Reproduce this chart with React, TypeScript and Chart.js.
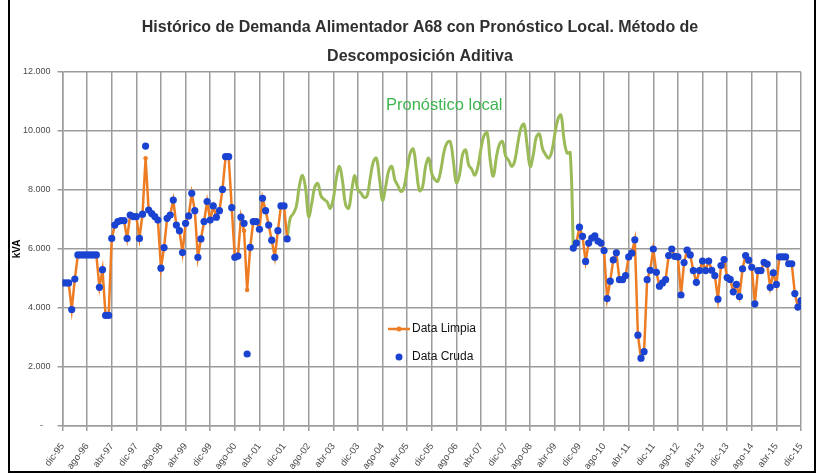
import React, { useEffect, useRef } from 'react';
import { Chart, registerables } from 'chart.js';

Chart.register(...registerables);

// ---------- DATA ----------
const titleLines = [
  'Histórico de Demanda Alimentador A68 con Pronóstico Local. Método de',
  'Descomposición Aditiva',
];
const yAxisTitle = 'kVA';
const annotationText = 'Pronóstico local';
const legendLabels = ['Data Limpia', 'Data Cruda'];

// x tick labels, one every 8 months starting dic-95 (month index 0)
const tickLabels = [
  'dic-95', 'ago-96', 'abr-97', 'dic-97', 'ago-98', 'abr-99', 'dic-99', 'ago-00',
  'abr-01', 'dic-01', 'ago-02', 'abr-03', 'dic-03', 'ago-04', 'abr-05', 'dic-05',
  'ago-06', 'abr-07', 'dic-07', 'ago-08', 'abr-09', 'dic-09', 'ago-10', 'abr-11',
  'dic-11', 'ago-12', 'abr-13', 'dic-13', 'ago-14', 'abr-15', 'dic-15',
];
const monthsPerTick = 8;
const totalMonths = 240;

// Data Limpia, first period (starts dic-95, month 0)
const limpiaStart1 = 0;
const limpia1 = [
  4850, 4850, 4850, 3950, 4980, 5800, 5800, 5800, 5800, 5800, 5800, 5800,
  4700, 5300, 3750, 3750, 6360, 6810, 6930, 6960, 6960, 6360, 7150, 7100,
  7100, 6360, 7180, 9080, 7320, 7200, 7100, 6980, 5350, 6050, 7040, 7150,
  7660, 6810, 6620, 5880, 6870, 7120, 7890, 7300, 5720, 6340, 6930, 7610,
  6980, 7460, 7080, 7300, 8020, 9130, 9130, 7400, 5720, 5760, 7080, 6620,
  4610, 6060, 6930, 6930, 6670, 7720, 7300, 6810, 6300, 5720, 6620, 7460,
  7460, 6340,
];
// Data Cruda, first period
const cruda1 = [
  4850, 4850, 4850, 3950, 4980, 5800, 5800, 5800, 5800, 5800, 5800, 5800,
  4700, 5300, 3750, 3750, 6360, 6810, 6930, 6960, 6960, 6360, 7150, 7100,
  7100, 6360, 7180, 9490, 7320, 7200, 7100, 6980, 5350, 6050, 7040, 7150,
  7660, 6810, 6620, 5880, 6870, 7120, 7890, 7300, 5720, 6340, 6930, 7610,
  6980, 7460, 7080, 7300, 8020, 9130, 9130, 7400, 5720, 5760, 7080, 6870,
  2440, 6060, 6930, 6930, 6670, 7720, 7300, 6810, 6300, 5720, 6620, 7460,
  7460, 6340,
];

// Pronóstico local (starts ene-02, month 73)
const pronosticoStart = 73;
const pronostico = [
  6340, 7050, 7200, 7450, 8150, 8500, 8050, 7100, 7550, 8100, 8220, 7800,
  7680, 7600, 7380, 7700, 8400, 8800, 8300, 7500, 7380, 8000, 8490, 8000,
  7900, 7750, 7800, 8400, 8950, 9080, 8400, 7650, 8100, 8650, 8800, 8350,
  8150, 7950, 8100, 8700, 9250, 9390, 8700, 7980, 8100, 8800, 9080, 8560,
  8350, 8300, 8700, 9300, 9600, 9640, 9000, 8250, 8500, 9200, 9360, 8850,
  8700, 8500, 8800, 9400, 9850, 9940, 9000, 8470, 9100, 9550, 9640, 9150,
  9000, 8800, 9000, 9600, 10100, 10230, 9500, 8800, 9200, 9800, 9900, 9400,
  9200, 9080, 9300, 9900, 10400, 10540, 9700, 9250, 9270, 6030,
];

// Data Limpia / Cruda, second period (starts oct-09, month 166)
const limpiaStart2 = 166;
const limpia2 = [
  6030, 6200, 6740, 6430, 5580, 6200, 6370, 6450, 6270, 6200, 5950, 4320,
  4910, 5630, 5870, 4960, 4960, 5100, 5730, 5860, 6310, 3080, 2300, 2520,
  4960, 5280, 6000, 5210, 4740, 4850, 4960, 5780, 6000, 5750, 5730, 4440,
  5540, 5960, 5800, 5270, 4870, 5270, 5590, 5270, 5590, 5280, 5100, 4300,
  5440, 5640, 5030, 4970, 4550, 4800, 4390, 5330, 5780, 5620, 5380, 4140,
  5270, 5270, 5550, 5490, 4700, 5190, 4800, 5730, 5730, 5730, 5500, 5500,
  4490, 4030, 4250,
];
const cruda2 = [
  6030, 6200, 6740, 6430, 5580, 6200, 6370, 6450, 6270, 6200, 5950, 4320,
  4910, 5630, 5870, 4960, 4960, 5100, 5730, 5860, 6310, 3080, 2300, 2520,
  4960, 5280, 6000, 5210, 4740, 4850, 4960, 5780, 6000, 5750, 5730, 4440,
  5540, 5960, 5800, 5270, 4870, 5270, 5590, 5270, 5590, 5280, 5100, 4300,
  5440, 5640, 5030, 4970, 4550, 4800, 4390, 5330, 5780, 5620, 5380, 4140,
  5270, 5270, 5550, 5490, 4700, 5190, 4800, 5730, 5730, 5730, 5500, 5500,
  4490, 4030, 4250,
];

const yMax = 12000;
const yStep = 2000;

// ---------- STYLE ----------
const orange = '#EE7C22';
const blue = '#1B43D2';
const green = '#9BBB59';
const greenText = '#3DB54E';
const gridColor = '#9C9C9C';
const tickColor = '#4a4a4a';

const toPoints = (start: number, arr: number[]) =>
  arr.map((y, k) => ({ x: start + k, y }));

const fmtThousands = (v: number) => {
  if (v === 0) return '-   ';
  const s = Math.round(v).toString();
  return s.replace(/\B(?=(\d{3})+(?!\d))/g, '.');
};

const overlayPlugin = {
  id: 'overlay',
  afterDraw(chart: any) {
    const { ctx } = chart;
    ctx.save();
    // title
    ctx.fillStyle = '#303030';
    ctx.font = 'bold 16px "Liberation Sans", Arial, sans-serif';
    ctx.textAlign = 'center';
    ctx.textBaseline = 'middle';
    ctx.fillText(titleLines[0], 420, 28);
    ctx.fillText(titleLines[1], 420, 57);

    // annotation
    ctx.fillStyle = greenText;
    ctx.font = '16.5px "Liberation Sans", Arial, sans-serif';
    ctx.textAlign = 'left';
    ctx.fillText(annotationText, 386, 105);

    // legend
    ctx.strokeStyle = orange;
    ctx.lineWidth = 2.5;
    ctx.beginPath();
    ctx.moveTo(388, 329);
    ctx.lineTo(410, 329);
    ctx.stroke();
    ctx.fillStyle = orange;
    ctx.beginPath();
    ctx.arc(399, 329, 2.5, 0, Math.PI * 2);
    ctx.fill();
    ctx.fillStyle = blue;
    ctx.beginPath();
    ctx.arc(399, 357, 3.5, 0, Math.PI * 2);
    ctx.fill();
    ctx.fillStyle = '#111';
    ctx.font = '12px "Liberation Sans", Arial, sans-serif';
    ctx.fillText(legendLabels[0], 412, 329);
    ctx.fillText(legendLabels[1], 412, 357);

    // frame
    ctx.strokeStyle = '#000';
    ctx.lineWidth = 2;
    ctx.beginPath();
    ctx.moveTo(9, 0);
    ctx.lineTo(9, 472);
    ctx.lineTo(815, 472);
    ctx.lineTo(815, 0);
    ctx.stroke();
    ctx.restore();
  },
};

export default function App() {
  const ref = useRef<HTMLCanvasElement | null>(null);

  useEffect(() => {
    if (!ref.current) return;
    const limpiaData = [
      ...toPoints(limpiaStart1, limpia1),
      { x: limpiaStart1 + limpia1.length, y: null as any },
      ...toPoints(limpiaStart2, limpia2),
    ];
    const crudaData = [
      ...toPoints(limpiaStart1, cruda1),
      ...toPoints(limpiaStart2, cruda2),
    ];
    const chart = new Chart(ref.current, {
      type: 'line',
      data: {
        datasets: [
          {
            label: legendLabels[1],
            data: crudaData,
            showLine: false,
            pointRadius: 3.6,
            pointBackgroundColor: blue,
            pointBorderWidth: 0,
            borderColor: blue,
            order: 0,
          },
          {
            label: legendLabels[0],
            data: limpiaData,
            borderColor: orange,
            borderWidth: 2.5,
            pointRadius: 2.2,
            pointBackgroundColor: orange,
            pointBorderWidth: 0,
            spanGaps: false,
            tension: 0,
            order: 1,
          },
          {
            label: annotationText,
            data: toPoints(pronosticoStart, pronostico),
            borderColor: green,
            borderWidth: 3,
            pointRadius: 0,
            tension: 0.4,
            order: 2,
          },
        ],
      },
      options: {
        responsive: false,
        animation: false,
        parsing: false as any,
        layout: { padding: { top: 72, left: 0, right: 23, bottom: 0 } },
        plugins: {
          legend: { display: false },
          title: { display: false },
          tooltip: { enabled: false },
        },
        scales: {
          x: {
            type: 'linear',
            min: 0,
            max: totalMonths,
            grid: {
              color: gridColor,
              lineWidth: 1.5,
              tickLength: 5,
              drawTicks: true,
            },
            border: { color: gridColor, width: 1.5 },
            ticks: {
              stepSize: monthsPerTick,
              autoSkip: false,
              minRotation: 53,
              maxRotation: 53,
              padding: 10,
              color: tickColor,
              font: { family: '"Liberation Sans", Arial, sans-serif', size: 9.5 },
              callback: (v: any) => tickLabels[Math.round(Number(v) / monthsPerTick)] ?? '',
            },
            afterFit: (s: any) => {
              s.height = 48;
              s.paddingLeft = 0;
              s.paddingRight = 0;
            },
          },
          y: {
            min: 0,
            max: yMax,
            grid: {
              color: gridColor,
              lineWidth: 1.5,
              tickLength: 5,
            },
            border: { color: gridColor, width: 1.5 },
            ticks: {
              stepSize: yStep,
              padding: 7,
              color: tickColor,
              font: { family: '"Liberation Sans", Arial, sans-serif', size: 9 },
              callback: (v: any) => fmtThousands(Number(v)),
            },
            title: {
              display: true,
              text: yAxisTitle,
              color: '#000',
              font: { family: '"Liberation Sans", Arial, sans-serif', size: 10, weight: 'bold' },
              padding: { top: 11, bottom: 0 },
            },
            afterFit: (s: any) => {
              s.width = 62.5;
              s.paddingTop = 0;
              s.paddingBottom = 0;
            },
          },
        },
      },
      plugins: [overlayPlugin],
    });
    return () => chart.destroy();
  }, []);

  return (
    <div style={{ position: 'fixed', left: 0, top: 0, width: 824, height: 474, background: '#fff' }}>
      <canvas ref={ref} width={824} height={474} style={{ display: 'block', width: 824, height: 474 }} />
    </div>
  );
}
